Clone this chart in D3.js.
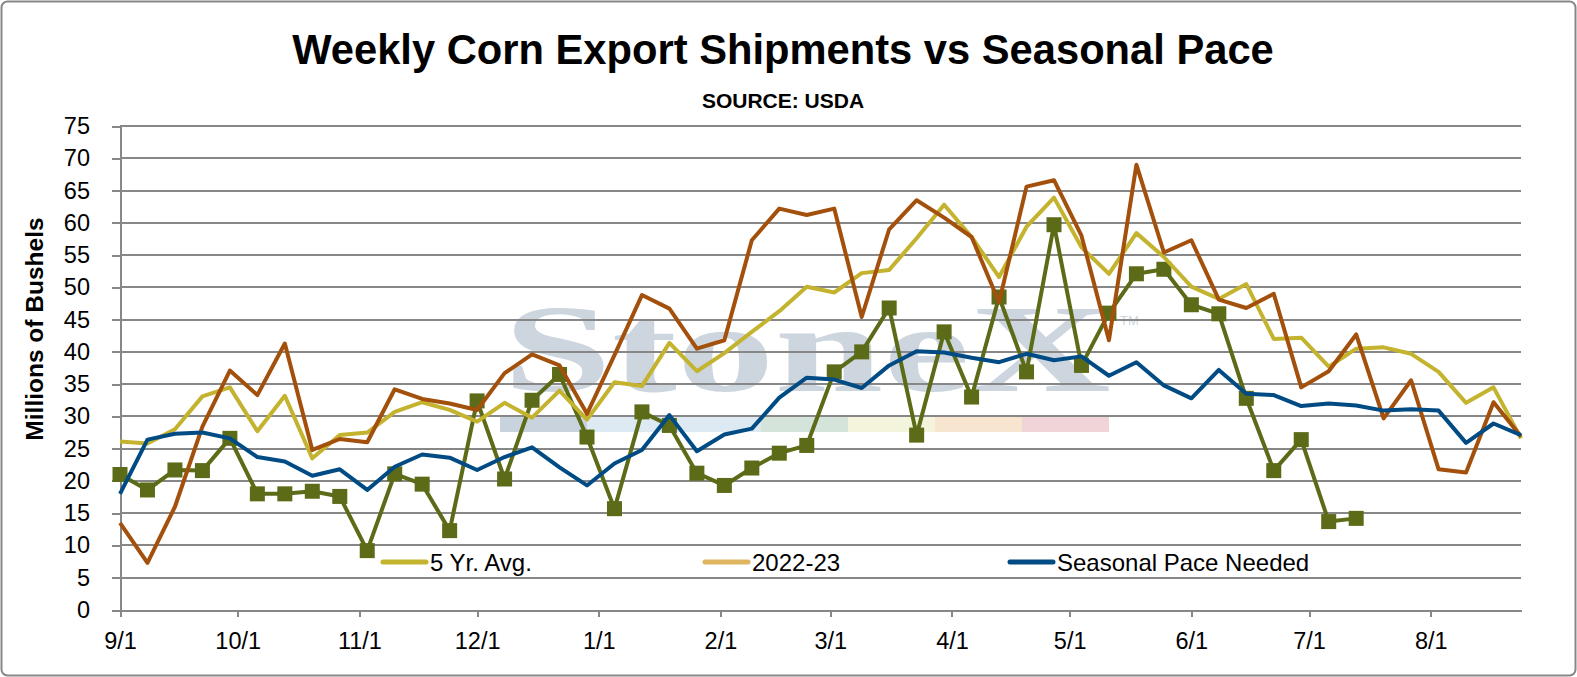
<!DOCTYPE html>
<html lang="en">
<head>
    <meta charset="UTF-8">
    <title>Weekly Corn Export Shipments vs Seasonal Pace</title>
    <script src="https://d3js.org/d3.v7.min.js"></script>
</head>
<body>
<style>
    body {
        margin: 0;
        background-color: white;
    }
    svg {
        display: block;
        font-family: "Liberation Sans", Arial, sans-serif;
    }
    .grid line {
        stroke: #878787;
        stroke-width: 2;
        shape-rendering: crispEdges;
    }
    .axis path,
    .axis line {
        fill: none;
        stroke: #878787;
        stroke-width: 2;
        shape-rendering: crispEdges;
    }
    .axis text {
        font-size: 23.5px;
        fill: black;
    }
    .series {
        fill: none;
        stroke-width: 4;
        stroke-linejoin: round;
    }
    .legend text {
        font-size: 24px;
    }
</style>

<svg width="1577" height="677"></svg>

<script>
    // week dates (marketing year starts 9/1)
    var weekDates = [
        "2022-09-01", "2022-09-08", "2022-09-15", "2022-09-22", "2022-09-29",
        "2022-10-06", "2022-10-13", "2022-10-20", "2022-10-27",
        "2022-11-03", "2022-11-10", "2022-11-17", "2022-11-24",
        "2022-12-01", "2022-12-08", "2022-12-15", "2022-12-22", "2022-12-29",
        "2023-01-05", "2023-01-12", "2023-01-19", "2023-01-26",
        "2023-02-02", "2023-02-09", "2023-02-16", "2023-02-23",
        "2023-03-02", "2023-03-09", "2023-03-16", "2023-03-23", "2023-03-30",
        "2023-04-06", "2023-04-13", "2023-04-20", "2023-04-27",
        "2023-05-04", "2023-05-11", "2023-05-18", "2023-05-25",
        "2023-06-01", "2023-06-08", "2023-06-15", "2023-06-22", "2023-06-29",
        "2023-07-06", "2023-07-13", "2023-07-20", "2023-07-27",
        "2023-08-03", "2023-08-10", "2023-08-17", "2023-08-24"
    ];

    var monthTicks = [
        "2022-09-01", "2022-10-01", "2022-11-01", "2022-12-01", "2023-01-01", "2023-02-01",
        "2023-03-01", "2023-04-01", "2023-05-01", "2023-06-01", "2023-07-01", "2023-08-01"
    ];

    var yTicks = [0, 5, 10, 15, 20, 25, 30, 35, 40, 45, 50, 55, 60, 65, 70, 75];

    // current year (green squares), only up to mid July
    var current = [
        21.0, 18.6, 21.7, 21.6, 26.6, 18.0, 18.0, 18.4, 17.6, 9.2,
        21.1, 19.5, 12.3, 32.4, 20.3, 32.5, 36.5, 26.8, 15.7, 30.7,
        28.6, 21.2, 19.3, 22.0, 24.3, 25.5, 36.9, 40.0, 46.8, 27.1,
        43.1, 33.0, 48.5, 36.9, 59.7, 37.9, 46.0, 52.1, 52.8, 47.3,
        45.9, 32.8, 21.6, 26.4, 13.7, 14.2
    ];

    var fiveYrAvg = [
        26.1, 25.8, 28.0, 33.1, 34.5, 27.7, 33.2, 23.5, 27.1, 27.5,
        30.7, 32.2, 31.0, 29.2, 32.1, 29.8, 34.0, 29.5, 35.3, 34.7,
        41.4, 37.0, 39.8, 43.1, 46.3, 50.1, 49.2, 52.2, 52.7, 57.6,
        62.8, 57.8, 51.6, 59.4, 63.9, 56.2, 52.1, 58.4, 54.7, 50.1,
        48.2, 50.5, 42.0, 42.2, 37.7, 40.5, 40.7, 39.7, 36.9, 32.1,
        34.5, 26.6
    ];

    var prevYear = [
        13.5, 7.3, 16.0, 28.4, 37.1, 33.3, 41.3, 24.8, 26.5, 26.0,
        34.2, 32.7, 32.0, 31.0, 36.7, 39.6, 37.9, 30.4, 39.5, 48.8,
        46.7, 40.5, 41.8, 57.3, 62.2, 61.2, 62.2, 45.4, 59.0, 63.5,
        60.8, 57.8, 47.7, 65.6, 66.6, 58.0, 41.8, 69.0, 55.4, 57.3,
        48.1, 46.8, 49.0, 34.5, 37.0, 42.7, 29.7, 35.6, 21.8, 21.3,
        32.2, 26.9
    ];

    var seasonalPace = [
        18.0, 26.4, 27.3, 27.5, 26.6, 23.7, 23.0, 20.8, 21.8, 18.6,
        22.2, 24.1, 23.6, 21.7, 23.7, 25.2, 22.1, 19.3, 22.7, 24.8,
        30.2, 24.6, 27.2, 28.1, 32.9, 36.0, 35.7, 34.4, 37.9, 40.1,
        39.9, 39.1, 38.4, 39.7, 38.7, 39.3, 36.3, 38.4, 34.8, 32.8,
        37.2, 33.5, 33.3, 31.6, 32.0, 31.7, 30.9, 31.1, 30.9, 25.9,
        28.9, 27.1
    ];

    var svg = d3.select("svg");
    var parse = d3.utcParse("%Y-%m-%d");
    var dates = weekDates.map(parse);

    var plotLeft = 120, plotRight = 1521, plotTop = 126, plotBottom = 610;

    var x = d3.scaleUtc()
            .domain([dates[0], dates[dates.length - 1]])
            .range([plotLeft, plotRight]);
    var y = d3.scaleLinear()
            .domain([0, 75])
            .range([plotBottom, plotTop]);

    // outer frame
    svg.append("rect")
            .attr("x", 1.5).attr("y", 1.5)
            .attr("width", 1574).attr("height", 674)
            .attr("rx", 6)
            .attr("fill", "white")
            .attr("stroke", "#878787")
            .attr("stroke-width", 2);

    // StoneX watermark
    var wm = svg.append("g").attr("class", "watermark");
    var barColors = ["#c9d3dd", "#dde9f3", "#dde9f3", "#d4e4db", "#f4f4dd", "#f8e5cf", "#f1d4d8"];
    wm.selectAll("rect")
            .data(barColors)
            .enter()
            .append("rect")
            .attr("x", function (d, i) { return 500 + i * 87; })
            .attr("y", 417)
            .attr("width", 87)
            .attr("height", 15)
            .attr("fill", function (d) { return d; });
    wm.append("text")
            .text("StoneX")
            .attr("x", 503)
            .attr("y", 391)
            .attr("textLength", 608)
            .attr("lengthAdjust", "spacingAndGlyphs")
            .style("font-family", "'Liberation Serif', 'Times New Roman', serif")
            .style("font-size", "124px")
            .style("font-weight", "bold")
            .style("fill", "#cdd6df");
    wm.append("text")
            .text("TM")
            .attr("x", 1120)
            .attr("y", 325)
            .style("font-size", "13px")
            .style("fill", "#cdd6df");

    // gridlines
    svg.append("g")
            .attr("class", "grid")
            .selectAll("line")
            .data(yTicks.slice(1))
            .enter()
            .append("line")
            .attr("x1", plotLeft)
            .attr("x2", plotRight)
            .attr("y1", function (d) { return y(d); })
            .attr("y2", function (d) { return y(d); });

    // axes
    var axisY = d3.axisLeft(y)
            .tickValues(yTicks)
            .tickSize(8)
            .tickSizeOuter(0)
            .tickPadding(22);
    var axisX = d3.axisBottom(x)
            .tickValues(monthTicks.map(parse))
            .tickFormat(d3.utcFormat("%-m/%-d"))
            .tickSize(7)
            .tickSizeOuter(0)
            .tickPadding(15);
    svg.append("g")
            .attr("class", "axis")
            .attr("transform", "translate(" + plotLeft + ",0)")
            .call(axisY);
    svg.append("g")
            .attr("class", "axis")
            .attr("transform", "translate(0," + plotBottom + ")")
            .call(axisX);

    svg.append("text")
            .text("Millions of Bushels")
            .attr("transform", "translate(43,329) rotate(-90)")
            .attr("text-anchor", "middle")
            .style("font-size", "24.5px")
            .style("font-weight", "bold");

    // series
    var line = d3.line()
            .x(function (d, i) { return x(dates[i]); })
            .y(function (d) { return y(d); });

    svg.append("path")
            .datum(current)
            .attr("class", "series")
            .attr("stroke", "#5b6b17")
            .attr("d", line);
    svg.selectAll(".marker")
            .data(current)
            .enter()
            .append("rect")
            .attr("class", "marker")
            .attr("x", function (d, i) { return x(dates[i]) - 7.5; })
            .attr("y", function (d) { return y(d) - 7.5; })
            .attr("width", 15)
            .attr("height", 15)
            .attr("fill", "#5b6b17");

    svg.append("path")
            .datum(fiveYrAvg)
            .attr("class", "series")
            .attr("stroke", "#c4b32f")
            .attr("d", line);
    svg.append("path")
            .datum(prevYear)
            .attr("class", "series")
            .attr("stroke", "#a3500c")
            .attr("d", line);
    svg.append("path")
            .datum(seasonalPace)
            .attr("class", "series")
            .attr("stroke", "#004b84")
            .attr("d", line);

    // title
    svg.append("text")
            .text("Weekly Corn Export Shipments vs Seasonal Pace")
            .attr("x", 783)
            .attr("y", 64)
            .attr("text-anchor", "middle")
            .style("font-size", "41.7px")
            .style("font-weight", "bold");
    svg.append("text")
            .text("SOURCE: USDA")
            .attr("x", 783)
            .attr("y", 108)
            .attr("text-anchor", "middle")
            .style("font-size", "21px")
            .style("font-weight", "bold");

    // legend (the current year has no entry, as in the original)
    var legendItems = [
        {name: "5 Yr. Avg.", color: "#c4b32f", x: 383},
        {name: "2022-23", color: "#e0b560", x: 705},
        {name: "Seasonal Pace Needed", color: "#004b84", x: 1010}
    ];
    var legend = svg.append("g").attr("class", "legend")
            .selectAll("g")
            .data(legendItems)
            .enter()
            .append("g")
            .attr("transform", function (d) { return "translate(" + d.x + ",562)"; });
    legend.append("line")
            .attr("x1", 0).attr("x2", 43)
            .attr("stroke", function (d) { return d.color; })
            .attr("stroke-width", 5)
            .attr("stroke-linecap", "round");
    legend.append("text")
            .text(function (d) { return d.name; })
            .attr("x", 47)
            .attr("y", 8.5);
</script>
</body>
</html>
